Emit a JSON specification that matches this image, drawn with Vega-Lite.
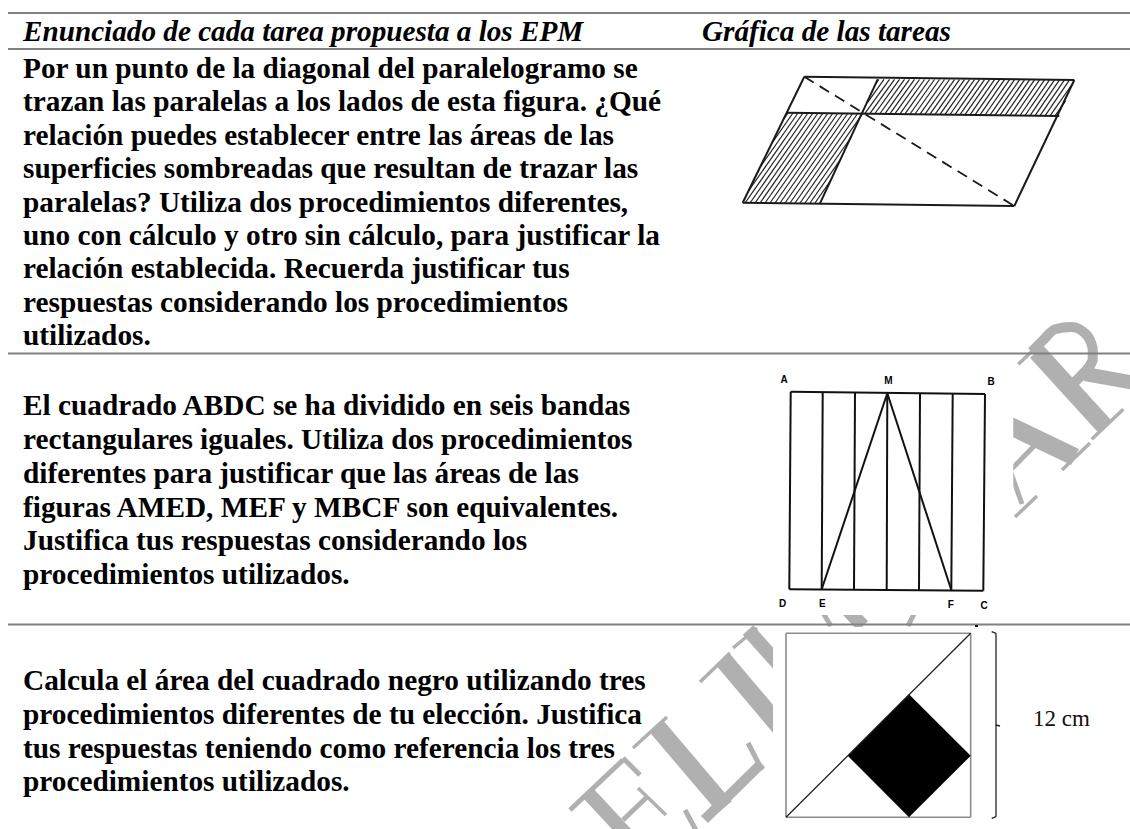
{"$schema":"https://vega.github.io/schema/vega-lite/v6.json","width":1130,"height":829,"padding":0,"autosize":{"type":"fit","contains":"padding"},"background":"white","config":{"view":{"stroke":null}},
"datasets":{
"marca":[
{"x":1036.7,"y":351.7,"x2":1105,"y2":426.7,"clase":"grueso"},
{"x":1091.7,"y":439.3,"x2":1123.3,"y2":409.3,"clase":"fino"},
{"x":1085,"y":374,"x2":1135,"y2":383,"clase":"medio"},
{"x":1018.3,"y":364.3,"x2":1033.3,"y2":350,"clase":"fino"},
{"x":1000,"y":421,"x2":1075,"y2":457,"clase":"grueso"},
{"x":1062,"y":470,"x2":1090,"y2":443,"clase":"fino"},
{"x":1000,"y":481,"x2":1037,"y2":443,"clase":"delgado"},
{"x":1010,"y":470,"x2":1022,"y2":504,"clase":"delgado"},
{"x":1015,"y":517,"x2":1037,"y2":496,"clase":"fino"},
{"x":820,"y":608,"x2":831,"y2":626,"clase":"delgado"},
{"x":845,"y":607,"x2":863,"y2":626,"clase":"medio"},
{"x":917,"y":608,"x2":908,"y2":626,"clase":"delgado"},
{"x":733,"y":648,"x2":757,"y2":628,"clase":"fino"},
{"x":748,"y":630,"x2":782,"y2":668,"clase":"medio"},
{"x":700,"y":682,"x2":730,"y2":653,"clase":"fino"},
{"x":722.5,"y":659,"x2":785,"y2":733,"clase":"grueso"},
{"x":633,"y":748,"x2":667,"y2":717,"clase":"fino"},
{"x":657,"y":727,"x2":725,"y2":807,"clase":"grueso"},
{"x":704.5,"y":819.5,"x2":761.5,"y2":763.5,"clase":"ancho"},
{"x":748,"y":743,"x2":762,"y2":770,"clase":"delgado"},
{"x":570,"y":810,"x2":623,"y2":760,"clase":"delgado"},
{"x":623,"y":758,"x2":640,"y2":775,"clase":"delgado"},
{"x":588,"y":793,"x2":627,"y2":835,"clase":"medio"},
{"x":623,"y":820,"x2":647,"y2":797,"clase":"delgado"},
{"x":638,"y":788,"x2":666,"y2":815,"clase":"fino"},
{"x":685,"y":810,"x2":697,"y2":832,"clase":"delgado"}
],
"curva":[
{"x":1031.7,"y":351.7,"n":1},{"x":1043.3,"y":340,"n":2},{"x":1055,"y":329.3,"n":3},{"x":1071.7,"y":327,"n":4},{"x":1086.7,"y":335,"n":5},{"x":1092.7,"y":348.3,"n":6},{"x":1092.7,"y":360,"n":7},{"x":1083.3,"y":373.3,"n":8},{"x":1075,"y":381.7,"n":9}
],
"blancos":[
{"x":772,"y":355,"x2":1013.3,"y2":615},
{"x":773,"y":627,"x2":1130,"y2":829}
],
"reglas":[
{"x":8,"y":13,"x2":1130,"y2":13},{"x":8,"y":49,"x2":1130,"y2":49},{"x":8,"y":353.5,"x2":1130,"y2":353.5},{"x":8,"y":624.5,"x2":1130,"y2":624.5}
],
"encabezado":[
{"x":23,"y":41,"texto":"Enunciado de cada tarea propuesta a los EPM"},
{"x":702,"y":41,"texto":"Gráfica de las tareas"}
],
"cuerpo":[
{"x":23,"y":78,"texto":"Por un punto de la diagonal del paralelogramo se"},
{"x":23,"y":111.4,"texto":"trazan las paralelas a los lados de esta figura. ¿Qué"},
{"x":23,"y":144.8,"texto":"relación puedes establecer entre las áreas de las"},
{"x":23,"y":178.2,"texto":"superficies sombreadas que resultan de trazar las"},
{"x":23,"y":211.6,"texto":"paralelas? Utiliza dos procedimientos diferentes,"},
{"x":23,"y":245,"texto":"uno con cálculo y otro sin cálculo, para justificar la"},
{"x":23,"y":278.4,"texto":"relación establecida. Recuerda justificar tus"},
{"x":23,"y":311.8,"texto":"respuestas considerando los procedimientos"},
{"x":23,"y":345,"texto":"utilizados."},
{"x":23,"y":415,"texto":"El cuadrado ABDC se ha dividido en seis bandas"},
{"x":23,"y":449,"texto":"rectangulares iguales. Utiliza dos procedimientos"},
{"x":23,"y":482.5,"texto":"diferentes para justificar que las áreas de las"},
{"x":23,"y":516.5,"texto":"figuras AMED, MEF y MBCF son equivalentes."},
{"x":23,"y":550,"texto":"Justifica tus respuestas considerando los"},
{"x":23,"y":584,"texto":"procedimientos utilizados."},
{"x":23,"y":690,"texto":"Calcula el área del cuadrado negro utilizando tres"},
{"x":23,"y":724,"texto":"procedimientos diferentes de tu elección. Justifica"},
{"x":23,"y":758,"texto":"tus respuestas teniendo como referencia los tres"},
{"x":23,"y":791,"texto":"procedimientos utilizados."}
],
"rayado":[
{"x":788,"y":113,"x2":783.7,"y2":119.2},{"x":793,"y":113,"x2":772.1,"y2":142.9},{"x":798,"y":113,"x2":760.5,"y2":166.6},{"x":803,"y":113,"x2":748.9,"y2":190.3},
{"x":808,"y":113,"x2":745,"y2":203},{"x":813,"y":113,"x2":750,"y2":203},{"x":818,"y":113,"x2":755,"y2":203},{"x":823,"y":113,"x2":760,"y2":203},{"x":828,"y":113,"x2":765,"y2":203},{"x":833,"y":113,"x2":770,"y2":203},{"x":838,"y":113,"x2":775,"y2":203},{"x":843,"y":113,"x2":780,"y2":203},{"x":848,"y":113,"x2":785,"y2":203},{"x":853,"y":113,"x2":790,"y2":203},{"x":858,"y":113,"x2":795,"y2":203},
{"x":862.1,"y":114.3,"x2":800,"y2":203},{"x":851.6,"y":136.5,"x2":805,"y2":203},{"x":841.1,"y":158.6,"x2":810,"y2":203},{"x":830.6,"y":180.7,"x2":815,"y2":203},
{"x":875.7,"y":83.7,"x2":878.8,"y2":79.3},{"x":867.3,"y":102.9,"x2":884,"y2":79.4},
{"x":865,"y":113.3,"x2":889.5,"y2":79.4},{"x":870,"y":113.4,"x2":894.5,"y2":79.4},{"x":875,"y":113.5,"x2":899.5,"y2":79.4},{"x":880,"y":113.5,"x2":904.5,"y2":79.4},{"x":885,"y":113.6,"x2":909.5,"y2":79.4},{"x":890,"y":113.7,"x2":914.5,"y2":79.4},{"x":895,"y":113.7,"x2":919.5,"y2":79.5},{"x":900,"y":113.8,"x2":924.5,"y2":79.5},{"x":905,"y":113.9,"x2":929.5,"y2":79.5},{"x":910,"y":114,"x2":934.5,"y2":79.5},{"x":915,"y":114,"x2":939.5,"y2":79.5},{"x":920,"y":114.1,"x2":944.5,"y2":79.5},{"x":925,"y":114.2,"x2":949.5,"y2":79.5},{"x":930,"y":114.2,"x2":954.5,"y2":79.6},{"x":935,"y":114.3,"x2":959.5,"y2":79.6},{"x":940,"y":114.4,"x2":964.5,"y2":79.6},{"x":945,"y":114.4,"x2":969.5,"y2":79.6},{"x":950,"y":114.5,"x2":974.5,"y2":79.6},{"x":955,"y":114.6,"x2":979.5,"y2":79.6},{"x":960,"y":114.6,"x2":984.5,"y2":79.6},{"x":965,"y":114.7,"x2":989.5,"y2":79.7},{"x":970,"y":114.8,"x2":994.5,"y2":79.7},{"x":975,"y":114.8,"x2":999.5,"y2":79.7},{"x":980,"y":114.9,"x2":1004.5,"y2":79.7},{"x":985,"y":115,"x2":1009.5,"y2":79.7},{"x":990,"y":115.1,"x2":1014.5,"y2":79.7},{"x":995,"y":115.1,"x2":1019.5,"y2":79.8},{"x":1000,"y":115.2,"x2":1024.5,"y2":79.8},{"x":1005,"y":115.3,"x2":1029.5,"y2":79.8},{"x":1010,"y":115.3,"x2":1034.5,"y2":79.8},{"x":1015,"y":115.4,"x2":1039.5,"y2":79.8},{"x":1020,"y":115.5,"x2":1044.5,"y2":79.8},{"x":1025,"y":115.5,"x2":1049.5,"y2":79.9},{"x":1030,"y":115.6,"x2":1054.5,"y2":79.9},{"x":1035,"y":115.7,"x2":1059.5,"y2":79.9},{"x":1040,"y":115.7,"x2":1064.5,"y2":79.9},{"x":1045,"y":115.8,"x2":1069.5,"y2":79.9},{"x":1050,"y":115.8,"x2":1073,"y2":83},{"x":1055,"y":115.9,"x2":1065.6,"y2":100.8}
],
"figura1":[
{"x":804.3,"y":76.7,"x2":1074.3,"y2":80},{"x":1074.3,"y":80,"x2":1014.3,"y2":206},{"x":1014.3,"y":206,"x2":742.7,"y2":202.7},{"x":742.7,"y":202.7,"x2":804.3,"y2":76.7},{"x":786.7,"y":112.7,"x2":1059.3,"y2":116},{"x":877.7,"y":79.3,"x2":820,"y2":203.3}
],
"diagonal1":[{"x":804.3,"y":76.7,"x2":1014.3,"y2":206}],
"figura2":[
{"x":790.7,"y":391.7,"x2":985,"y2":394},{"x":789.3,"y":589.3,"x2":983.3,"y2":590.7},{"x":790.7,"y":391.7,"x2":789.3,"y2":589.3},{"x":985,"y":394,"x2":983.3,"y2":590.7},
{"x":822.7,"y":392.3,"x2":821.7,"y2":589.3},{"x":855,"y":392.3,"x2":854,"y2":590},{"x":887.3,"y":393.3,"x2":886.7,"y2":590},{"x":920,"y":393.3,"x2":919,"y2":590},{"x":952.7,"y":393.3,"x2":951.3,"y2":590},
{"x":887.3,"y":393.3,"x2":821.7,"y2":589.3},{"x":887.3,"y":393.3,"x2":951.3,"y2":590},
{"x":975,"y":626,"x2":978,"y2":626}
],
"letras":[
{"x":784,"y":380,"texto":"A"},{"x":888.3,"y":380.7,"texto":"M"},{"x":991,"y":381.7,"texto":"B"},{"x":782.7,"y":604,"texto":"D"},{"x":822.3,"y":604,"texto":"E"},{"x":950.7,"y":605,"texto":"F"},{"x":984,"y":605.7,"texto":"C"}
],
"cuadrado":[
{"x":786,"y":633.3,"x2":970.7,"y2":633.3},{"x":970.7,"y":633.3,"x2":970.7,"y2":817.3},{"x":970.7,"y":817.3,"x2":786,"y2":817.3},{"x":786,"y":817.3,"x2":786,"y2":633.3}
],
"negro":[
{"x":847.7,"y":755.7,"y2":755.7},{"x":909,"y":694.3,"y2":817.3},{"x":970.7,"y":755.7,"y2":755.7}
],
"finos":[
{"x":786,"y":817.3,"x2":970.7,"y2":633.3},
{"x":991.7,"y":631.7,"x2":996,"y2":633.3},{"x":996,"y":633.3,"x2":996,"y2":816.7},{"x":996,"y":816.7,"x2":991.7,"y2":818.3},{"x":996,"y":725,"x2":1000,"y2":726}
],
"medida":[{"x":1033,"y":726,"texto":"12 cm"}]
},
"encoding":{
"x":{"field":"x","type":"quantitative","axis":null,"scale":{"domain":[0,1130],"nice":false,"zero":false}},
"y":{"field":"y","type":"quantitative","axis":null,"scale":{"domain":[829,0],"nice":false,"zero":false}}
},
"layer":[
{"data":{"name":"marca"},"transform":[{"filter":"datum.clase==='fino'"}],"mark":{"type":"rule","color":"#b0b0b0","strokeCap":"butt","strokeWidth":3.5,"clip":true},"encoding":{"x2":{"field":"x2"},"y2":{"field":"y2"}}},
{"data":{"name":"marca"},"transform":[{"filter":"datum.clase==='delgado'"}],"mark":{"type":"rule","color":"#b0b0b0","strokeCap":"butt","strokeWidth":5,"clip":true},"encoding":{"x2":{"field":"x2"},"y2":{"field":"y2"}}},
{"data":{"name":"marca"},"transform":[{"filter":"datum.clase==='ancho'"}],"mark":{"type":"rule","color":"#b0b0b0","strokeCap":"butt","strokeWidth":10,"clip":true},"encoding":{"x2":{"field":"x2"},"y2":{"field":"y2"}}},
{"data":{"name":"marca"},"transform":[{"filter":"datum.clase==='medio'"}],"mark":{"type":"rule","color":"#b0b0b0","strokeCap":"butt","strokeWidth":14,"clip":true},"encoding":{"x2":{"field":"x2"},"y2":{"field":"y2"}}},
{"data":{"name":"marca"},"transform":[{"filter":"datum.clase==='grueso'"}],"mark":{"type":"rule","color":"#b0b0b0","strokeCap":"butt","strokeWidth":18,"clip":true},"encoding":{"x2":{"field":"x2"},"y2":{"field":"y2"}}},
{"data":{"name":"curva"},"mark":{"type":"line","color":"#b0b0b0","strokeWidth":10,"interpolate":"monotone","clip":true},"encoding":{"order":{"field":"n"}}},
{"data":{"name":"blancos"},"mark":{"type":"rect","color":"white","clip":true},"encoding":{"x2":{"field":"x2"},"y2":{"field":"y2"}}},
{"data":{"name":"reglas"},"mark":{"type":"rule","color":"#808080","strokeWidth":2,"clip":true},"encoding":{"x2":{"field":"x2"},"y2":{"field":"y2"}}},
{"data":{"name":"encabezado"},"mark":{"type":"text","align":"left","baseline":"alphabetic","font":"Liberation Serif","fontSize":29.2,"fontStyle":"italic","fontWeight":"bold","color":"black"},"encoding":{"text":{"field":"texto"}}},
{"data":{"name":"cuerpo"},"mark":{"type":"text","align":"left","baseline":"alphabetic","font":"Liberation Serif","fontSize":29.3,"fontWeight":"bold","color":"black"},"encoding":{"text":{"field":"texto"}}},
{"data":{"name":"rayado"},"mark":{"type":"rule","color":"#222222","strokeWidth":1.2},"encoding":{"x2":{"field":"x2"},"y2":{"field":"y2"}}},
{"data":{"name":"figura1"},"mark":{"type":"rule","color":"#1a1a1a","strokeWidth":2},"encoding":{"x2":{"field":"x2"},"y2":{"field":"y2"}}},
{"data":{"name":"diagonal1"},"mark":{"type":"rule","color":"#1a1a1a","strokeWidth":1.8,"strokeDash":[11,7]},"encoding":{"x2":{"field":"x2"},"y2":{"field":"y2"}}},
{"data":{"name":"figura2"},"mark":{"type":"rule","color":"#111111","strokeWidth":2},"encoding":{"x2":{"field":"x2"},"y2":{"field":"y2"}}},
{"data":{"name":"letras"},"mark":{"type":"text","align":"center","baseline":"middle","font":"Liberation Sans","fontSize":10,"fontWeight":"bold","color":"black"},"encoding":{"text":{"field":"texto"}}},
{"data":{"name":"cuadrado"},"mark":{"type":"rule","color":"#8c8c8c","strokeWidth":1.6},"encoding":{"x2":{"field":"x2"},"y2":{"field":"y2"}}},
{"data":{"name":"negro"},"mark":{"type":"area","color":"black","orient":"vertical","interpolate":"linear"},"encoding":{"y2":{"field":"y2"}}},
{"data":{"name":"finos"},"mark":{"type":"rule","color":"#222222","strokeWidth":1.3},"encoding":{"x2":{"field":"x2"},"y2":{"field":"y2"}}},
{"data":{"name":"medida"},"mark":{"type":"text","align":"left","baseline":"alphabetic","font":"Liberation Serif","fontSize":23,"color":"#111111"},"encoding":{"text":{"field":"texto"}}}
]}
